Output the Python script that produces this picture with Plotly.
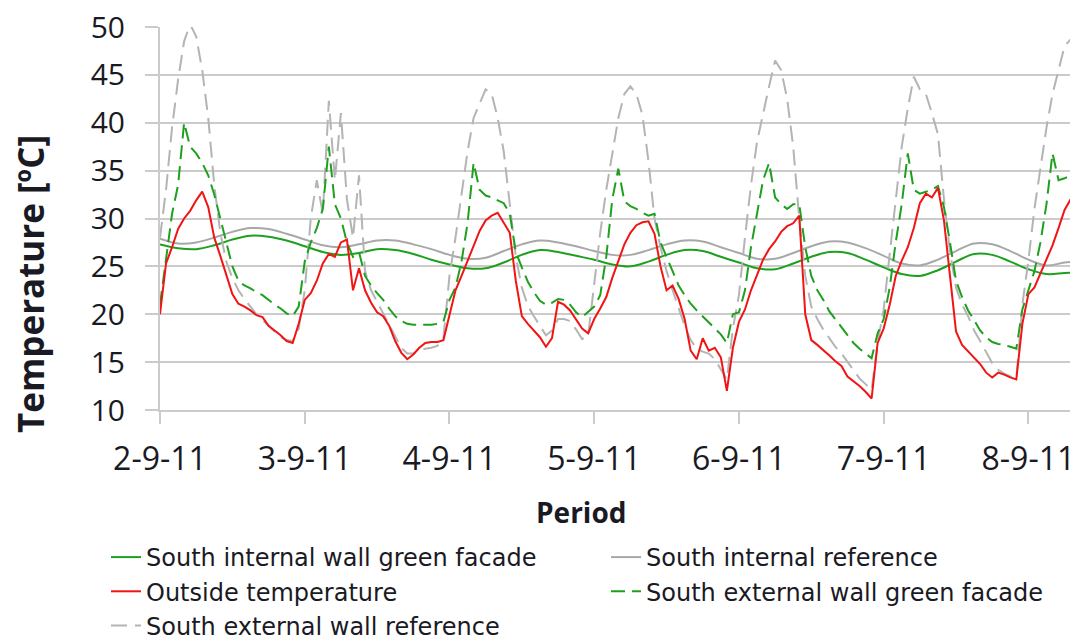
import pandas as pd
import plotly.graph_objects as go

# ---------------- data ----------------
start = "2011-09-02 00:00:00"

# hourly series, hours 0..151
outside_temp = [
    20.0, 25.3, 27.0, 28.9, 30.0, 30.8, 31.9, 32.8, 31.2, 28.0, 26.1, 24.2, 22.1, 21.1, 20.8, 20.4, 19.9, 19.7, 18.8, 18.3, 17.8, 17.2, 17.0, 19.0,
    21.5, 22.2, 23.5, 25.3, 26.3, 26.0, 27.5, 27.8, 22.5, 24.8, 22.5, 21.2, 20.2, 19.8, 18.8, 17.2, 16.0, 15.3, 15.8, 16.5, 17.0, 17.1, 17.1, 17.3,
    19.8, 22.5, 24.0, 25.5, 27.2, 28.7, 29.8, 30.3, 30.6, 29.6, 28.5, 23.5, 19.8, 19.0, 18.3, 17.6, 16.6, 17.5, 21.3, 21.0, 20.4, 19.5, 18.5, 18.0,
    19.5, 20.6, 21.8, 23.8, 25.6, 27.3, 28.5, 29.3, 29.6, 29.7, 28.4, 25.0, 22.5, 23.0, 21.6, 19.5, 16.2, 15.3, 17.5, 16.2, 16.5, 15.5, 12.0, 16.5,
    19.2, 20.5, 22.5, 24.0, 25.7, 26.8, 27.6, 28.6, 29.2, 29.5, 30.3, 20.0, 17.3, 16.8, 16.3, 15.7, 15.1, 14.6, 13.5, 13.0, 12.5, 11.9, 11.2, 17.0,
    18.5, 21.0, 24.0, 25.6, 27.0, 29.0, 31.6, 32.6, 32.2, 33.2, 29.8, 24.0, 18.2, 16.8, 16.1, 15.4, 14.8, 13.9, 13.4, 13.9, 13.7, 13.4, 13.2, 19.0,
    22.1, 22.8, 24.3, 25.6, 27.2, 29.0, 30.9, 32.0,
]

ext_green = [
    21.0, 25.5, 30.5, 33.5, 40.0, 37.5, 36.8, 35.8, 34.5, 32.5, 30.0, 27.5, 25.0, 23.5, 23.0, 22.7, 22.3, 22.0, 21.5, 21.0, 20.6, 20.1, 19.8, 20.8,
    25.5, 27.5, 29.0, 31.0, 37.5, 31.5, 30.0, 27.5, 26.0, 26.5, 24.0, 23.0, 22.2, 21.5, 20.6, 19.8, 19.3, 19.0, 18.9, 18.9, 18.9, 18.9, 19.0, 19.2,
    21.5, 22.8, 25.5, 29.5, 35.8, 33.0, 32.4, 32.2, 31.9, 31.6, 30.5, 26.5, 24.9, 23.4, 22.3, 21.4, 21.0, 21.2, 21.6, 21.5, 21.0, 20.2, 19.7, 20.3,
    20.8, 22.0, 26.0, 32.0, 35.2, 31.8, 31.3, 31.0, 30.6, 30.3, 30.5, 27.5, 26.0, 24.3, 23.0, 22.0, 21.1, 20.4, 19.8, 19.1, 18.6, 17.9, 17.0, 20.0,
    20.2, 22.5, 27.0, 30.5, 34.0, 35.8, 32.2, 31.5, 31.0, 31.5, 31.5, 27.0, 24.0, 22.5, 21.5, 20.3, 19.5, 18.6, 17.8, 17.0, 16.4, 15.9, 15.4, 18.0,
    19.5, 22.8, 27.5, 31.5, 36.8, 33.0, 32.6, 32.8, 33.0, 33.4, 31.2, 27.5, 23.5, 21.8, 20.4, 19.4, 18.3, 17.6, 17.1, 16.9, 16.8, 16.6, 16.4, 20.5,
    22.5, 24.5, 27.5, 31.5, 36.8, 34.0, 34.2, 34.5,
]

ext_reference = [
    28.0, 33.0, 39.5, 44.5, 48.5, 50.3, 49.0, 45.5, 40.5, 33.5, 28.5, 25.5, 23.8, 22.5, 21.6, 20.8, 20.0, 19.4, 18.8, 18.1, 17.6, 17.3, 17.2, 18.5,
    22.5, 30.0, 34.0, 30.5, 42.3, 34.0, 41.0, 32.0, 28.0, 34.5, 24.5, 22.5, 21.3, 20.2, 19.0, 17.8, 16.5, 15.9, 15.9, 16.2, 16.4, 16.5, 16.7, 17.5,
    24.0, 28.0, 32.5, 37.0, 40.5, 42.0, 43.5, 43.0, 40.5, 37.0, 31.5, 26.0, 22.8, 20.9, 19.8, 18.8, 17.8, 18.3, 19.5, 19.5, 19.3, 18.4, 17.4, 17.8,
    23.0, 28.5, 33.0, 37.0, 40.5, 43.0, 43.8, 43.0, 40.8, 36.0, 30.0, 27.0, 24.5, 22.5, 20.7, 18.8, 17.3, 16.4, 16.1, 15.9, 15.3, 14.3, 13.2, 18.5,
    22.0, 28.0, 33.5, 38.0, 41.0, 43.8, 46.5, 45.5, 42.5, 37.5, 30.0, 24.0, 20.8, 19.5, 18.4, 17.5, 16.6, 15.9, 15.0, 14.2, 13.3, 12.7, 12.1, 17.0,
    20.5, 26.3, 32.0, 37.5, 41.5, 44.8, 43.5, 43.0, 41.0, 38.8, 32.0, 26.5, 22.8, 21.0, 19.8, 18.3, 17.2, 16.0, 14.9, 14.2, 13.8, 13.5, 13.3, 21.0,
    25.6, 31.0, 35.5, 39.5, 43.0, 45.5, 48.0, 48.7,
]

# 3-hourly series, hours 0..153
int_reference = [
    27.9, 27.4, 27.5, 28.0, 28.6, 29.0, 28.9, 28.4,
    27.8, 27.2, 27.0, 27.3, 27.7, 27.7, 27.3, 26.8,
    26.2, 25.8, 25.9, 26.6, 27.3, 27.7, 27.5, 27.1,
    26.6, 26.2, 26.2, 26.7, 27.3, 27.7, 27.6, 27.0,
    26.4, 25.8, 25.8, 26.4, 27.1, 27.6, 27.5, 26.9,
    26.1, 25.3, 25.1, 25.7, 26.6, 27.4, 27.3, 26.6,
    25.7, 25.1, 25.4, 25.6,
]

int_green = [
    27.3, 26.9, 26.8, 27.2, 27.8, 28.2, 28.1, 27.7,
    27.1, 26.5, 26.2, 26.4, 26.8, 26.7, 26.3, 25.7,
    25.2, 24.8, 24.8, 25.4, 26.2, 26.7, 26.5, 26.1,
    25.7, 25.2, 25.0, 25.5, 26.2, 26.7, 26.6, 26.0,
    25.4, 24.8, 24.7, 25.3, 26.0, 26.5, 26.4, 25.7,
    24.9, 24.2, 24.0, 24.6, 25.5, 26.3, 26.2, 25.5,
    24.7, 24.2, 24.3, 24.4,
]

y_ticks = [10, 15, 20, 25, 30, 35, 40, 45, 50]

FMT = "%Y-%m-%d %H:%M:%S"
t_hourly = list(pd.date_range(start, periods=len(outside_temp), freq="h").strftime(FMT))
t_3h = list(pd.date_range(start, periods=len(int_green), freq="3h").strftime(FMT))
x_end = (pd.Timestamp(start) + pd.Timedelta(minutes=int(150.9 * 60))).strftime(FMT)

# ---------------- styling ----------------
FONT = "Open Sans"
LEG_FONT = "DejaVu Sans"
TXT = "#1a1a24"
GRID = "#cbcbcb"
GREEN = "#1ea01e"
RED = "#f01414"
GRAY_S = "#a8a8a8"
GRAY_D = "#b4b4b4"

fig = go.Figure()
fig.add_trace(go.Scatter(x=t_3h, y=int_green, mode="lines", name="South internal wall green facade",
                         line=dict(color=GREEN, width=2, shape="spline"), legend="legend", legendrank=1))
fig.add_trace(go.Scatter(x=t_3h, y=int_reference, mode="lines", name="South internal reference",
                         line=dict(color=GRAY_S, width=2, shape="spline"), legend="legend2", legendrank=1))
fig.add_trace(go.Scatter(x=t_hourly, y=ext_reference, mode="lines", name="South external wall reference",
                         line=dict(color=GRAY_D, width=2, dash="16px,8px"), legend="legend", legendrank=3))
fig.add_trace(go.Scatter(x=t_hourly, y=ext_green, mode="lines", name="South external wall green facade",
                         line=dict(color=GREEN, width=2, dash="14px,7px"), legend="legend2", legendrank=2))
fig.add_trace(go.Scatter(x=t_hourly, y=outside_temp, mode="lines", name="Outside temperature",
                         line=dict(color=RED, width=2), legend="legend", legendrank=2))

legend_common = dict(
    orientation="v", xref="container", yref="container",
    xanchor="left", yanchor="top",
    font=dict(size=24, family=LEG_FONT, color=TXT), tracegroupgap=0,
    traceorder="normal", bgcolor="rgba(0,0,0,0)", itemwidth=30,
)

fig.update_layout(
    width=1084, height=642,
    margin=dict(l=160, r=14, t=27, b=232, autoexpand=False),
    paper_bgcolor="white", plot_bgcolor="white",
    font=dict(family=FONT, color=TXT),
    xaxis=dict(
        type="date", range=[start, x_end],
        tick0=start, dtick=86400000, tickformat="%-d-%-m-%y",
        showgrid=False, showline=True, linecolor=GRID, linewidth=2,
        ticks="outside", ticklen=12, tickwidth=2, tickcolor=GRID,
        tickfont=dict(size=32, family=FONT, color=TXT), ticklabelstandoff=8,
        zeroline=False, automargin=False,
    ),
    yaxis=dict(
        range=[10, 50], tickvals=y_ticks,
        showgrid=True, gridcolor=GRID, gridwidth=2,
        showline=True, linecolor=GRID, linewidth=2,
        ticks="outside", ticklen=13, tickwidth=2, tickcolor=GRID,
        tickfont=dict(size=30, family=FONT, color=TXT), ticklabelstandoff=14,
        zeroline=False, automargin=False,
    ),
    legend=dict(x=106 / 1084, y=1 - 535 / 642, **legend_common),
    legend2=dict(x=606 / 1084, y=1 - 535 / 642, **legend_common),
    showlegend=True,
)

# axis titles as annotations
fig.add_annotation(text="<b>Period</b>", xref="paper", yref="paper",
                   x=(581 - 160) / 910, y=(410 - 512) / 383, showarrow=False,
                   font=dict(size=28, family=FONT, color=TXT), xanchor="center", yanchor="middle")
fig.add_annotation(text="<b>Temperature [ºC]</b>", xref="paper", yref="paper",
                   x=(30 - 160) / 910, y=(410 - 284) / 383, showarrow=False, textangle=-90,
                   font=dict(size=35, family=FONT, color=TXT), xanchor="center", yanchor="middle")

fig.write_html("out.html")
